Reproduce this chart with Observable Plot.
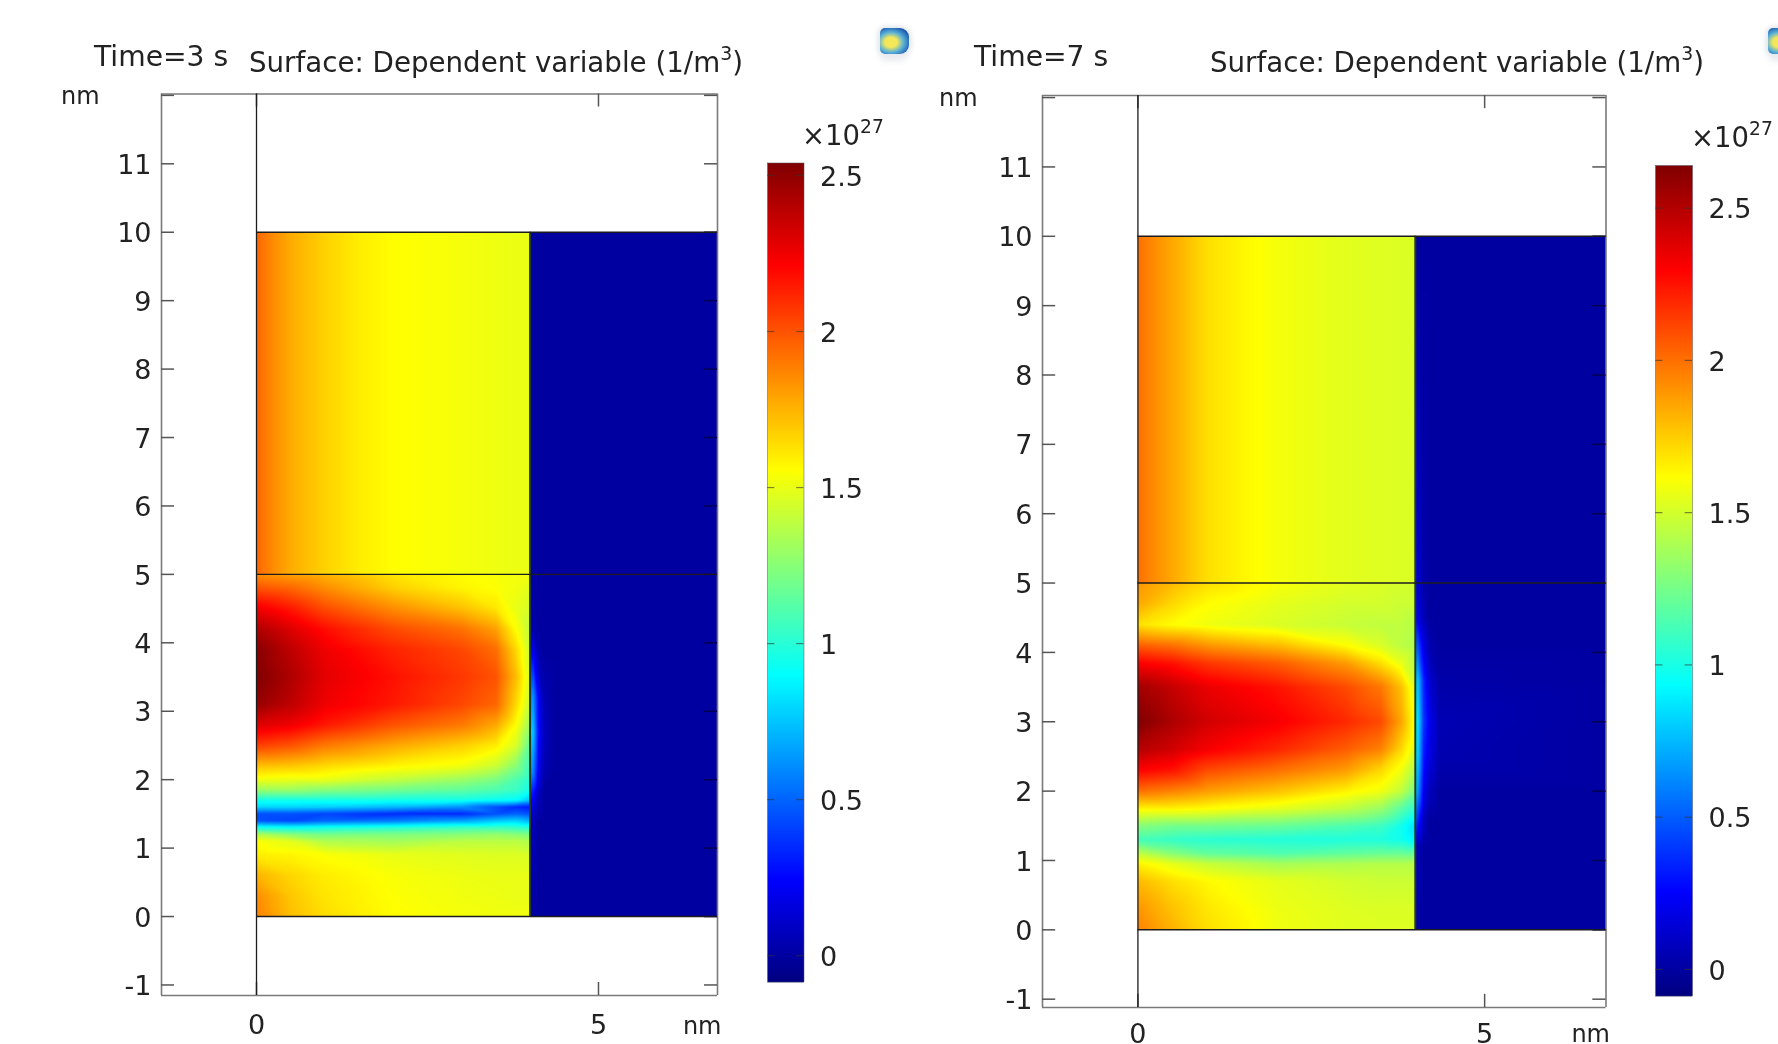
<!DOCTYPE html>
<html><head><meta charset="utf-8">
<script src="https://cdn.jsdelivr.net/npm/d3@7"></script>
<script src="https://cdn.jsdelivr.net/npm/@observablehq/plot@0.6"></script>
<style>
html,body{margin:0;padding:0;background:#fff;width:1778px;height:1044px;overflow:hidden}
#root{position:relative;width:1778px;height:1044px;overflow:hidden;filter:blur(.55px);font-family:"DejaVu Sans",sans-serif;color:#222}
#root>div.p{position:absolute;top:0}
#root svg{max-width:none !important}
.t{position:absolute;white-space:nowrap;line-height:1;color:#222}
.t sup{font-size:.68em;line-height:0;vertical-align:.62em}
.icon{position:absolute;width:29px;height:26px;border-radius:5px 9px 9px 5px;background:radial-gradient(ellipse at 38% 55%,#f4e85a 0 24%,#58b0d8 50%,#1c5cb0 78%,#16408c 100%);box-shadow:0 7px 6px #e8ebf0,0 -2px 5px #e8ebf0,-3px 0 5px #e8ebf0,3px 0 5px #e8ebf0}
svg text{fill:#222}
</style></head><body><div id="root"></div>
<script>
// ----- Values in units of 1e27 1/m^3 -----
const xColumns = [0, 0.5, 1, 2, 3, 3.5, 3.8, 4];
const upperX = [0, 0.25, 0.5, 1, 1.5, 2, 3, 4];
const upperY = [5, 10];
const glowX = [4, 4.05, 4.12, 4.2, 4.35, 7];

// Time = 3 s
const upper3 = [1.95, 1.85, 1.77, 1.67, 1.6, 1.56, 1.53, 1.5];
const lowerY3 = [5, 4.8, 4.5, 4.2, 3.9, 3.5, 3.1, 2.8, 2.5, 2.2, 2, 1.85, 1.7, 1.6, 1.5, 1.4, 1.3, 1.2, 1.1, 0.9, 0.6, 0.3, 0];
const lower3 = [
  [1.85, 1.8, 1.75, 1.62, 1.56, 1.54, 1.52, 1.52],
  [2.0, 1.95, 1.85, 1.68, 1.58, 1.55, 1.52, 1.48],
  [2.25, 2.15, 2.02, 1.85, 1.72, 1.62, 1.5, 1.45],
  [2.42, 2.3, 2.18, 2.02, 1.92, 1.8, 1.55, 1.4],
  [2.52, 2.38, 2.25, 2.12, 2.03, 1.93, 1.65, 1.42],
  [2.54, 2.42, 2.28, 2.17, 2.07, 2.0, 1.72, 1.45],
  [2.48, 2.38, 2.25, 2.15, 2.03, 1.95, 1.65, 1.4],
  [2.3, 2.25, 2.15, 2.0, 1.9, 1.78, 1.55, 1.3],
  [2.05, 2.0, 1.9, 1.78, 1.68, 1.6, 1.45, 1.15],
  [1.72, 1.7, 1.65, 1.58, 1.52, 1.42, 1.25, 1.05],
  [1.52, 1.5, 1.5, 1.4, 1.3, 1.22, 1.1, 1.0],
  [1.3, 1.3, 1.25, 1.2, 1.15, 1.1, 1.05, 0.95],
  [0.95, 0.95, 0.95, 0.95, 0.95, 0.92, 0.9, 0.75],
  [0.8, 0.8, 0.78, 0.72, 0.62, 0.45, 0.35, 0.3],
  [0.45, 0.45, 0.42, 0.35, 0.35, 0.45, 0.5, 0.45],
  [0.45, 0.42, 0.5, 0.55, 0.65, 0.75, 0.78, 0.7],
  [0.95, 0.92, 0.95, 1.0, 1.05, 1.05, 1.03, 1.0],
  [1.35, 1.25, 1.2, 1.22, 1.25, 1.28, 1.25, 1.22],
  [1.55, 1.48, 1.35, 1.32, 1.38, 1.38, 1.38, 1.35],
  [1.6, 1.58, 1.55, 1.5, 1.48, 1.47, 1.47, 1.46],
  [1.75, 1.66, 1.6, 1.54, 1.51, 1.5, 1.5, 1.5],
  [1.85, 1.7, 1.62, 1.55, 1.52, 1.51, 1.5, 1.5],
  [1.88, 1.72, 1.64, 1.56, 1.53, 1.52, 1.52, 1.52]
];
const glowY3 = [10, 5, 4.2, 3.8, 3.2, 2.7, 2.1, 1.8, 1.4, 0];
const glow3 = [
  [0, 0, 0, 0, 0, 0],
  [0, 0, 0, 0, 0, 0],
  [0.06, 0.03, 0, 0, 0, 0],
  [0.3, 0.24, 0.06, 0, 0, 0],
  [0.65, 0.6, 0.24, 0.05, 0, 0],
  [0.85, 0.72, 0.28, 0.08, 0, 0],
  [0.65, 0.55, 0.2, 0.04, 0, 0],
  [0.35, 0.28, 0.08, 0, 0, 0],
  [0.1, 0.06, 0, 0, 0, 0],
  [0, 0, 0, 0, 0, 0]
];

// Time = 7 s
const upper7 = [2.0, 1.92, 1.85, 1.7, 1.64, 1.59, 1.54, 1.52];
const lowerY7 = [5, 4.7, 4.4, 4.1, 3.85, 3.5, 3, 2.6, 2.3, 2, 1.75, 1.5, 1.3, 1.1, 0.95, 0.7, 0.3, 0];
const lower7 = [
  [1.9, 1.8, 1.7, 1.6, 1.54, 1.52, 1.5, 1.5],
  [1.85, 1.72, 1.62, 1.55, 1.5, 1.5, 1.48, 1.48],
  [1.7, 1.62, 1.58, 1.52, 1.47, 1.45, 1.45, 1.42],
  [2.05, 2.0, 1.9, 1.8, 1.62, 1.52, 1.44, 1.4],
  [2.3, 2.25, 2.15, 2.05, 1.88, 1.7, 1.55, 1.42],
  [2.55, 2.45, 2.35, 2.25, 2.1, 1.98, 1.78, 1.52],
  [2.64, 2.52, 2.42, 2.32, 2.19, 2.1, 1.85, 1.58],
  [2.5, 2.42, 2.32, 2.2, 2.05, 1.95, 1.72, 1.52],
  [2.3, 2.25, 2.1, 2.0, 1.88, 1.72, 1.58, 1.4],
  [2.0, 1.95, 1.88, 1.78, 1.65, 1.58, 1.45, 1.25],
  [1.65, 1.65, 1.62, 1.55, 1.45, 1.35, 1.18, 1.05],
  [1.3, 1.25, 1.25, 1.22, 1.15, 1.1, 0.98, 0.85],
  [1.12, 1.08, 1.05, 1.03, 1.02, 1.02, 0.98, 0.9],
  [1.45, 1.3, 1.2, 1.15, 1.2, 1.22, 1.22, 1.2],
  [1.65, 1.55, 1.47, 1.38, 1.4, 1.42, 1.42, 1.42],
  [1.8, 1.7, 1.63, 1.55, 1.5, 1.48, 1.48, 1.48],
  [1.9, 1.78, 1.68, 1.57, 1.53, 1.52, 1.52, 1.52],
  [1.95, 1.82, 1.7, 1.58, 1.54, 1.53, 1.53, 1.53]
];
const glowY7 = [10, 5, 4.5, 4.1, 3.6, 3, 2.5, 2, 1.6, 1.2, 0];
const glow7 = [
  [0, 0, 0, 0, 0, 0],
  [0.2, 0.12, 0.03, 0, 0, 0],
  [0.25, 0.18, 0.06, 0, 0, 0],
  [0.55, 0.42, 0.18, 0.05, 0, 0],
  [0.85, 0.72, 0.35, 0.14, 0.02, 0],
  [0.95, 0.8, 0.4, 0.22, 0.05, 0],
  [0.9, 0.75, 0.32, 0.18, 0.04, 0],
  [0.8, 0.6, 0.22, 0.08, 0, 0],
  [0.5, 0.32, 0.08, 0, 0, 0],
  [0.12, 0.05, 0, 0, 0, 0],
  [0, 0, 0, 0, 0, 0]
];

const yTicksOuter = [-1, 11, 12];
const yTicksInner = [0, 1, 2, 3, 4, 5, 6, 7, 8, 9, 10];
const yLabels = [-1, 0, 1, 2, 3, 4, 5, 6, 7, 8, 9, 10, 11];
const xTicks = [0, 5];
const colorTicks = [0, 0.5, 1, 1.5, 2, 2.5];
const jetStops = [0, 0.125, 0.375, 0.625, 0.875, 1];
const jetColors = ["#000080", "#0000ff", "#00ffff", "#ffff00", "#ff0000", "#800000"];

const panels = [
  {time: "Time=3 s", timeX: 94, titleX: 249, nmX: 61, nmY: 84, frame: [161, 717, 93.5, 995], xd: [-1.389, 6.74], yd: [-1.154, 12.02],
   bar: [766.5, 803, 162.5, 981.7], cd: [-0.085, 2.54], expX: 802, expY: 122, iconX: 880, botPad: 19, barPad: 16, nmDy: 31,
   upper: upper3, lowerY: lowerY3, lower: lower3, glowY: glowY3, glow: glow3},
  {time: "Time=7 s", timeX: 974, titleX: 1210, nmX: 939, nmY: 86, frame: [1041.5, 1605, 95, 1007], xd: [-1.376, 6.75], yd: [-1.12, 12.03],
   bar: [1655, 1692, 165, 995.7], cd: [-0.088, 2.64], expX: 1691, expY: 124, iconX: 1768, botPad: 16, barPad: 16, nmDy: 27,
   upper: upper7, lowerY: lowerY7, lower: lower7, glowY: glowY7, glow: glow7}
];

function table(xs, ys, rows) {
  const out = [];
  ys.forEach((y, j) => xs.forEach((x, i) => out.push({x, y, v: rows[j][i]})));
  return out;
}

const root = document.getElementById("root");
const FS = 27, GR = "#7a7a7a", DK = "#1c1c1c";

function add(el, left) { const d = document.createElement("div"); d.className = "p"; d.style.left = left + "px"; d.append(el); root.append(d); }
function label(html, x, y, size) { const s = document.createElement("span"); s.className = "t"; s.innerHTML = html; s.style.left = x + "px"; s.style.top = y + "px"; s.style.fontSize = size + "px"; root.append(s); return s; }

for (const p of panels) {
  const [L, R, T, B] = p.frame;
  const W = R + 60 - L + 120;
  const left = L - 120;
  const [x0, x1] = p.xd, [y0, y1] = p.yd;
  const color = {type: "linear", domain: jetStops.map(t => p.cd[0] + t * (p.cd[1] - p.cd[0])), range: jetColors, interpolate: "rgb"};
  const upperRows = upperY.map(() => p.upper);
  const chart = Plot.plot({
    width: W, height: 1044,
    marginLeft: 120, marginRight: 60, marginTop: T, marginBottom: 1044 - B,
    x: {domain: p.xd, axis: null}, y: {domain: p.yd, axis: null},
    color,
    style: {background: "transparent", overflow: "visible", fontFamily: '"DejaVu Sans",sans-serif'},
    marks: [
      Plot.raster(table(upperX, upperY, upperRows), {x: "x", y: "y", fill: "v", x1: 0, x2: 4, y1: 5, y2: 10, interpolate: "barycentric", pixelSize: 1}),
      Plot.raster(table(xColumns, p.lowerY, p.lower), {x: "x", y: "y", fill: "v", x1: 0, x2: 4, y1: 0, y2: 5, interpolate: "barycentric", pixelSize: 1}),
      Plot.raster(table(glowX, p.glowY, p.glow), {x: "x", y: "y", fill: "v", x1: 4, x2: x1, y1: 0, y2: 10, interpolate: "barycentric", pixelSize: 1}),
      // frame
      Plot.ruleX([x0, x1], {stroke: GR, strokeWidth: 1.6}),
      Plot.ruleY([y0, y1], {stroke: GR, strokeWidth: 1.6}),
      // inward ticks: grey on white, dark over the navy domain
      Plot.ruleY(yTicksOuter, {x1: x0, x2: x0 + 0.19, stroke: "#555", strokeWidth: 1.5}),
      Plot.ruleY(yTicksInner, {x1: x0, x2: x0 + 0.19, stroke: "#555", strokeWidth: 1.5}),
      Plot.ruleY(yTicksOuter, {x1: x1 - 0.19, x2: x1, stroke: "#555", strokeWidth: 1.5}),
      Plot.ruleY(yTicksInner, {x1: x1 - 0.19, x2: x1, stroke: "#000050", strokeWidth: 1.5}),
      Plot.ruleX(xTicks, {y1: y0, y2: y0 + 0.19, stroke: "#555", strokeWidth: 1.5}),
      Plot.ruleX(xTicks, {y1: y1 - 0.19, y2: y1, stroke: "#555", strokeWidth: 1.5}),
      // geometry edges
      Plot.ruleX([0], {stroke: DK, strokeWidth: 1.3}),
      Plot.ruleX([4], {y1: 0, y2: 10, stroke: "#243a22", strokeWidth: 2}),
      Plot.ruleY([0, 5, 10], {x1: 0, x2: x1, stroke: DK, strokeWidth: 1.4}),
      // tick labels
      Plot.axisY(yLabels, {anchor: "left", tickSize: 0, tickPadding: 10, fontSize: FS, dy: 1.5, label: null, tickFormat: d => String(d)}),
      Plot.axisX(xTicks, {anchor: "bottom", tickSize: 0, tickPadding: p.botPad, fontSize: FS, label: null, tickFormat: d => String(d)}),
      Plot.text(["nm"], {x: x1, y: y0, text: d => d, dy: p.nmDy, dx: 4, textAnchor: "end", fontSize: 24})
    ]
  });
  add(chart, left);

  const [bL, bR, bT, bB] = p.bar;
  const bar = Plot.plot({
    width: bR - bL + 100, height: 1044,
    marginLeft: 0, marginRight: 100, marginTop: bT, marginBottom: 1044 - bB,
    x: {domain: [0, 1], axis: null}, y: {domain: p.cd, axis: null},
    color,
    style: {background: "transparent", overflow: "visible", fontFamily: '"DejaVu Sans",sans-serif'},
    marks: [
      Plot.raster({x1: 0, x2: 1, y1: p.cd[0], y2: p.cd[1], fill: (x, y) => y, pixelSize: 1}),
      Plot.ruleY(colorTicks, {x1: 0, x2: 0.2, stroke: "#333", strokeOpacity: .6, strokeWidth: 1.2}),
      Plot.ruleY(colorTicks, {x1: 0.8, x2: 1, stroke: "#333", strokeOpacity: .6, strokeWidth: 1.2}),
      Plot.ruleX([0, 1], {stroke: "#556", strokeOpacity: .5, strokeWidth: 1}),
      Plot.ruleY(p.cd, {stroke: "#556", strokeOpacity: .5, strokeWidth: 1}),
      Plot.axisY(colorTicks, {anchor: "right", tickSize: 0, tickPadding: p.barPad, fontSize: FS, dy: 1.5, label: null, tickFormat: d => String(d)})
    ]
  });
  add(bar, bL);

  label(p.time, p.timeX, 43, 28.2);
  label("Surface: Dependent variable (1/m<sup>3</sup>)", p.titleX, 49, 27.7);
  label("nm", p.nmX, p.nmY, 24);
  label("×10<sup>27</sup>", p.expX, p.expY, 27.5);
  const ic = document.createElement("div"); ic.className = "icon"; ic.style.left = p.iconX + "px"; ic.style.top = "28px"; root.append(ic);
}
</script></body></html>
